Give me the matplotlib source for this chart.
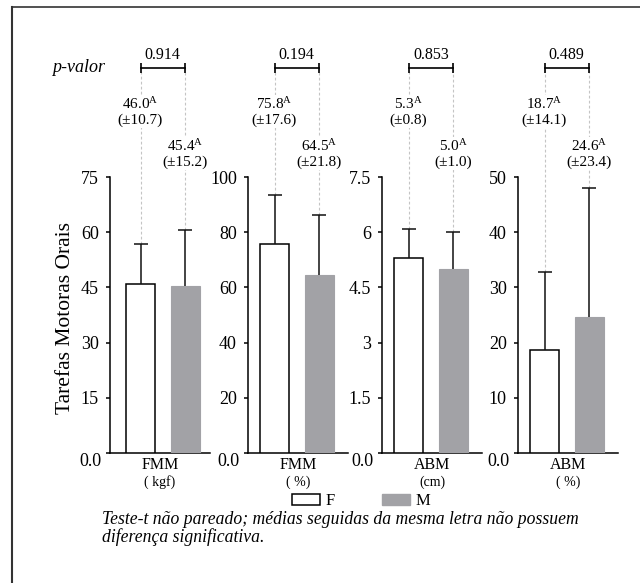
import matplotlib
matplotlib.use("Agg")
import matplotlib.pyplot as plt
from matplotlib.lines import Line2D
from matplotlib.patches import Patch
from matplotlib.transforms import blended_transform_factory, offset_copy

plt.rcParams["font.family"] = ["Liberation Serif", "DejaVu Serif"]
plt.rcParams["mathtext.fontset"] = "custom"
plt.rcParams["mathtext.rm"] = "Liberation Serif"
plt.rcParams["mathtext.it"] = "Liberation Serif:italic"

# =========================
# Data
# =========================
groups = ["F", "M"]
measures = ["FMM", "FMM", "ABM", "ABM"]
units = ["( kgf)", "( %)", "(cm)", "( %)"]
means_f = [46.0, 75.8, 5.3, 18.7]
means_m = [45.4, 64.5, 5.0, 24.6]
sd_f = [10.7, 17.6, 0.8, 14.1]
sd_m = [15.2, 21.8, 1.0, 23.4]
p_values = ["0.914", "0.194", "0.853", "0.489"]
letters_f = ["A", "A", "A", "A"]
letters_m = ["A", "A", "A", "A"]
y_max = [75, 100, 7.5, 50]
y_ticks = [
    [0, 15, 30, 45, 60, 75],
    [0, 20, 40, 60, 80, 100],
    [0, 1.5, 3, 4.5, 6, 7.5],
    [0, 10, 20, 30, 40, 50],
]
y_ticklabels = [
    ["", "15", "30", "45", "60", "75"],
    ["", "20", "40", "60", "80", "100"],
    ["", "1.5", "3", "4.5", "6", "7.5"],
    ["", "10", "20", "30", "40", "50"],
]

colors = ["white", "#a2a2a6"]

# =========================
# Layout (pixels)
# =========================
W, H = 640, 583
fig = plt.figure(figsize=(W / 100, H / 100), dpi=100)

ax_left = [110, 248, 382, 518]
bar_offset = [16, 12, 12, 12]
ax_w = 100
ax_top, ax_bot = 177, 453
unit_px = 44.5
bar_w = 29 / unit_px


def fy(ypix):
    return 1 - ypix / H


for i in range(4):
    ax = fig.add_axes([ax_left[i] / W, fy(ax_bot), ax_w / W, (ax_bot - ax_top) / H])
    x0 = -(bar_offset[i] + 14.5) / unit_px
    ax.set_xlim(x0, x0 + ax_w / unit_px)
    ax.set_ylim(0, y_max[i])

    means = [means_f[i], means_m[i]]
    sds = [sd_f[i], sd_m[i]]
    xs = [0, 1]

    ax.bar(xs[0], means[0], width=bar_w, color=colors[0], edgecolor="black",
           linewidth=1.1, zorder=3)
    ax.bar(xs[1], means[1], width=bar_w, color=colors[1], edgecolor=colors[1],
           linewidth=0.8, zorder=3)

    # upper-only error bars
    eb = ax.errorbar(xs, means, yerr=[[0, 0], sds], fmt="none", ecolor="#111111",
                     elinewidth=1.1, capsize=5, capthick=1.1, zorder=4, clip_on=False)
    for cl in eb[1]:
        if list(cl.get_ydata()) == means:
            cl.set_visible(False)

    # dotted guides from error tops up to the bracket
    disp = fig.transFigure.transform((0, fy(68)))
    y_br = ax.transData.inverted().transform(disp)[1]
    for x, m, s in zip(xs, means, sds):
        ax.plot([x, x], [m + s, y_br], color="#c4c4c4", lw=0.8,
                ls=(0, (2.5, 2)), zorder=1, clip_on=False)

    tr = blended_transform_factory(ax.transData, fig.transFigure)
    ax.plot(xs, [fy(68), fy(68)], color="black", lw=1.2, transform=tr,
            clip_on=False, zorder=5)
    ax.plot(xs, [fy(68), fy(68)], color="black", lw=0, marker="|", ms=7,
            mew=1.2, transform=tr, clip_on=False, zorder=5)
    ax.text(0.5, fy(55), p_values[i], transform=tr, ha="center", va="center",
            fontsize=11.5)

    box = dict(facecolor="white", edgecolor="none", pad=0.6)
    fs = 11
    ax.text(0, fy(104), f"{means_f[i]:.1f}$^{{\\mathrm{{{letters_f[i]}}}}}$",
            transform=tr, ha="center", va="center", fontsize=fs, bbox=box, zorder=6)
    ax.text(0, fy(120), f"(±{sd_f[i]:.1f})", transform=tr, ha="center",
            va="center", fontsize=fs, bbox=box, zorder=6)
    ax.text(1, fy(146), f"{means_m[i]:.1f}$^{{\\mathrm{{{letters_m[i]}}}}}$",
            transform=tr, ha="center", va="center", fontsize=fs, bbox=box, zorder=6)
    ax.text(1, fy(162), f"(±{sd_m[i]:.1f})", transform=tr, ha="center",
            va="center", fontsize=fs, bbox=box, zorder=6)

    ax.spines["top"].set_visible(False)
    ax.spines["right"].set_visible(False)
    ax.spines["left"].set_linewidth(1.1)
    ax.spines["bottom"].set_linewidth(1.1)
    ax.set_xticks([])
    ax.set_yticks(y_ticks[i])
    ax.set_yticklabels(y_ticklabels[i], fontsize=13)
    ax.tick_params(axis="y", length=3, width=1.1, pad=5)

    # zero label sits a little lower than the tick
    t0 = offset_copy(ax.get_yaxis_transform(), fig=fig, x=-8, y=-9, units="dots")
    ax.text(0, 0, "0.0", transform=t0, ha="right", va="center", fontsize=13)

    xc = (ax_left[i] + ax_w / 2) / W
    fig.text(xc, fy(465), measures[i], ha="center", va="center", fontsize=11.5)
    fig.text(xc, fy(482), units[i], ha="center", va="center", fontsize=10)

fig.text(65 / W, fy(318), "Tarefas Motoras Orais", rotation=90, ha="center",
         va="center", fontsize=15.5)
fig.text(79 / W, fy(68), "p-valor", ha="center", va="center", fontsize=13,
         style="italic")

handles = [Patch(facecolor=colors[0], edgecolor="black", linewidth=1.1),
           Patch(facecolor=colors[1], edgecolor=colors[1])]
fig.legend(handles, groups, loc="center", bbox_to_anchor=(361 / W, fy(501)),
           ncol=2, frameon=False, fontsize=12, handlelength=1.7,
           handleheight=0.65, handletextpad=0.35, columnspacing=2.8)

fig.text(102 / W, fy(520), "Teste-t não pareado; médias seguidas da mesma letra não possuem",
         ha="left", va="center", fontsize=12.7, style="italic")
fig.text(102 / W, fy(537), "diferença significativa.", ha="left", va="center",
         fontsize=12.7, style="italic")

# frame lines along the top and left edges
fig.add_artist(Line2D([12 / W, 1], [fy(7), fy(7)], color="#333333", lw=1.2))
fig.add_artist(Line2D([12 / W, 12 / W], [fy(7), 0], color="#333333", lw=1.5))

fig.savefig("out.png", dpi=100)
